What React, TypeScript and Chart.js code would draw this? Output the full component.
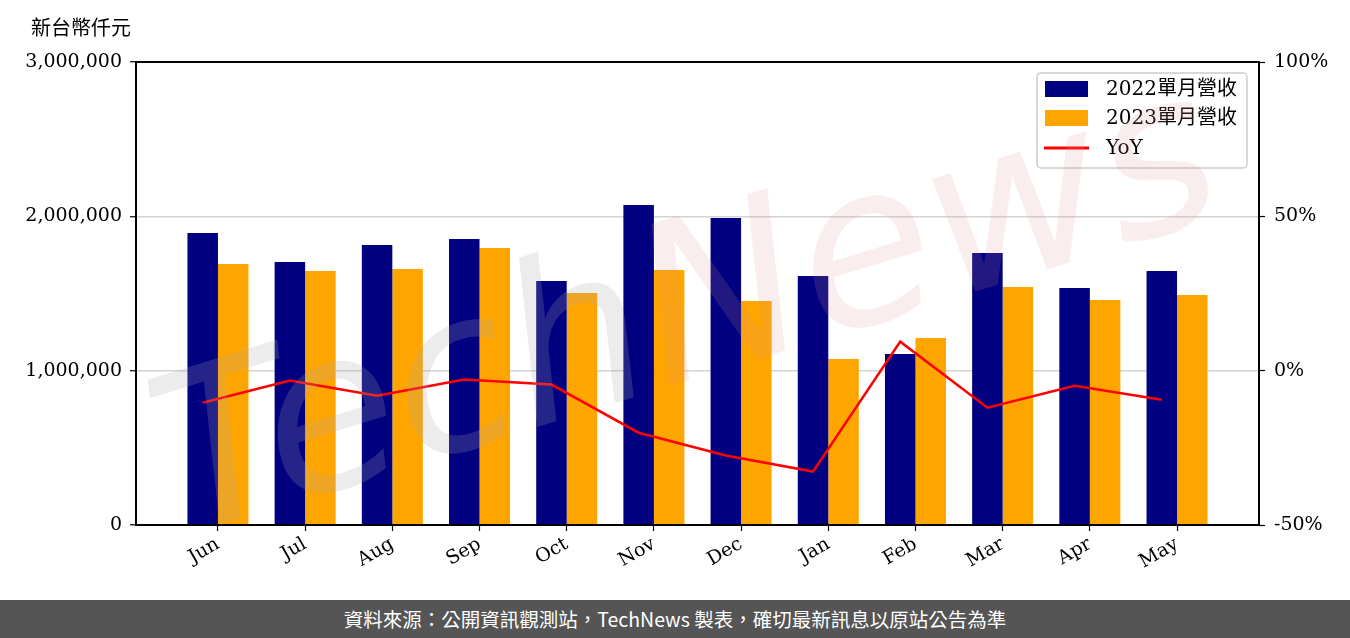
import React, { useEffect, useRef } from 'react';
import { Chart, registerables } from 'chart.js';
Chart.register(...registerables);

const months = ['Jun', 'Jul', 'Aug', 'Sep', 'Oct', 'Nov', 'Dec', 'Jan', 'Feb', 'Mar', 'Apr', 'May'];
const rev2022 = [1892000, 1704000, 1814000, 1853000, 1581000, 2073000, 1989000, 1613000, 1108000, 1762000, 1536000, 1646000];
const rev2023 = [1691000, 1646000, 1659000, 1795000, 1503000, 1652000, 1451000, 1076000, 1212000, 1542000, 1458000, 1490000];
const yoy = [-10.4, -3.2, -8.1, -2.9, -4.5, -20.1, -27.5, -32.7, 9.4, -12.0, -4.9, -9.4];
const leftTicks = [0, 1000000, 2000000, 3000000];
const rightTicks = [-50, 0, 50, 100];
const legendLabels = ['2022單月營收', '2023單月營收', 'YoY'];

const SERIF = "'DejaVu Serif', 'Noto Sans CJK TC', serif";
const NAVY = '#000080';
const ORANGE = '#FFA500';
const RED = '#FF0000';
const BAR_WIDTH = 0.35;

export default function App() {
  const ref = useRef<HTMLCanvasElement>(null);
  useEffect(() => {
    if (!ref.current) return;
    const deco = {
      id: 'deco',
      afterDraw(chart: any) {
        const { ctx, chartArea: a } = chart;
        // frame
        ctx.save();
        ctx.strokeStyle = '#000';
        ctx.lineWidth = 2;
        ctx.strokeRect(a.left, a.top, a.right - a.left, a.bottom - a.top);
        ctx.restore();
        // legend
        ctx.save();
        const lx = 1037, ly = 73, lw = 210, lh = 95;
        ctx.fillStyle = 'rgba(255,255,255,0.85)';
        ctx.strokeStyle = '#cccccc';
        ctx.lineWidth = 1.5;
        ctx.beginPath();
        (ctx as any).roundRect(lx, ly, lw, lh, 4);
        ctx.fill();
        ctx.stroke();
        const rows = [89, 118, 148];
        const colors = [NAVY, ORANGE, RED];
        ctx.font = `20px ${SERIF}`;
        ctx.textBaseline = 'middle';
        rows.forEach((cy, i) => {
          if (i < 2) {
            ctx.fillStyle = colors[i];
            ctx.fillRect(1045, cy - 8, 43, 16);
          } else {
            ctx.strokeStyle = colors[i];
            ctx.lineWidth = 3;
            ctx.beginPath();
            ctx.moveTo(1044, cy);
            ctx.lineTo(1089, cy);
            ctx.stroke();
          }
          ctx.fillStyle = '#000';
          ctx.fillText(legendLabels[i], 1106, cy + 1);
        });
        ctx.restore();
        // watermark
        ctx.save();
        ctx.translate(690, 320);
        ctx.rotate(-0.3);
        ctx.font = "italic 220px 'DejaVu Sans'";
        ctx.textBaseline = 'middle';
        const t1 = 'Tech';
        const t2 = 'News';
        const w1 = ctx.measureText(t1).width;
        const w2 = ctx.measureText(t2).width;
        const total = w1 + w2;
        ctx.fillStyle = 'rgba(170,170,170,0.22)';
        ctx.fillText(t1, -total / 2, 0);
        ctx.fillStyle = 'rgba(220,140,140,0.16)';
        ctx.fillText(t2, -total / 2 + w1, 0);
        ctx.restore();
      },
    };

    const chart = new Chart(ref.current, {
      type: 'bar',
      data: {
        datasets: [
          {
            type: 'line',
            label: legendLabels[2],
            data: yoy.map((v, i) => ({ x: i - BAR_WIDTH / 2, y: v })),
            borderColor: RED,
            borderWidth: 2.5,
            pointRadius: 0,
            yAxisID: 'y1',
            xAxisID: 'x',
            order: 0,
          } as any,
          {
            label: legendLabels[0],
            data: rev2022.map((v, i) => ({ x: i, y: v })),
            backgroundColor: NAVY,
            yAxisID: 'y',
            order: 1,
          },
          {
            label: legendLabels[1],
            data: rev2023.map((v, i) => ({ x: i, y: v })),
            backgroundColor: ORANGE,
            yAxisID: 'y',
            order: 1,
          },
        ],
      },
      options: {
        responsive: false,
        animation: false,
        layout: { padding: { top: 62, left: 0, right: 0, bottom: 0 } },
        datasets: { bar: { categoryPercentage: BAR_WIDTH * 2, barPercentage: 1.0 } } as any,
        plugins: { legend: { display: false }, tooltip: { enabled: false } },
        scales: {
          x: {
            type: 'linear',
            min: -0.94,
            max: 11.94,
            offset: false,
            border: { display: false },
            grid: { offset: false, drawOnChartArea: false, drawTicks: true, tickColor: '#000', tickLength: 6, tickWidth: 1.2 },
            afterBuildTicks: (axis: any) => {
              axis.ticks = months.map((_, i) => ({ value: i }));
            },
            afterFit: (s: any) => {
              s.height = 75;
            },
            ticks: {
              autoSkip: false,
              minRotation: 30,
              maxRotation: 30,
              padding: 2,
              color: '#000',
              font: { family: SERIF, size: 19 },
              callback: (v: any) => months[Math.round(Number(v))] ?? '',
            },
          },
          y: {
            position: 'left',
            min: 0,
            max: 3000000,
            border: { display: false },
            grid: { color: '#d3d3d3', lineWidth: 1.5, tickColor: '#000', tickLength: 6, tickWidth: 1.2 },
            afterBuildTicks: (axis: any) => {
              axis.ticks = leftTicks.map((v) => ({ value: v }));
            },
            afterFit: (s: any) => {
              s.width = 136;
            },
            ticks: {
              padding: 8,
              color: '#000',
              font: { family: SERIF, size: 19 },
              callback: (v: any) => Number(v).toLocaleString('en-US'),
            },
          },
          y1: {
            position: 'right',
            min: -50,
            max: 100,
            border: { display: false },
            grid: { drawOnChartArea: false, tickColor: '#000', tickLength: 6, tickWidth: 1.2 },
            afterBuildTicks: (axis: any) => {
              axis.ticks = rightTicks.map((v) => ({ value: v }));
            },
            afterFit: (s: any) => {
              s.width = 91;
            },
            ticks: {
              padding: 9,
              color: '#000',
              font: { family: SERIF, size: 19 },
              callback: (v: any) => `${v}%`,
            },
          },
        },
      },
      plugins: [deco],
    });
    return () => chart.destroy();
  }, []);

  return (
    <div lang="zh-TW" style={{ position: 'fixed', left: 0, top: 0, width: 1350, height: 638, background: '#fff', overflow: 'hidden' }}>
      <canvas ref={ref} width={1350} height={600} style={{ display: 'block', width: 1350, height: 600 }} />
      <div
        style={{
          position: 'absolute',
          left: 31,
          top: 13,
          fontFamily: "'Noto Sans CJK TC', sans-serif",
          fontSize: 20,
          color: '#000',
          lineHeight: '28px',
        }}
      >
        新台幣仟元
      </div>
      <div
        lang="zh-TW"
        style={{
          position: 'absolute',
          left: 0,
          top: 600,
          width: 1350,
          height: 38,
          background: '#555555',
          color: '#fff',
          fontFamily: "'Noto Sans CJK TC', sans-serif",
          fontSize: 19.5,
          lineHeight: '38px',
          textAlign: 'center',
        }}
      >
        資料來源：公開資訊觀測站，TechNews 製表，確切最新訊息以原站公告為準
      </div>
    </div>
  );
}
